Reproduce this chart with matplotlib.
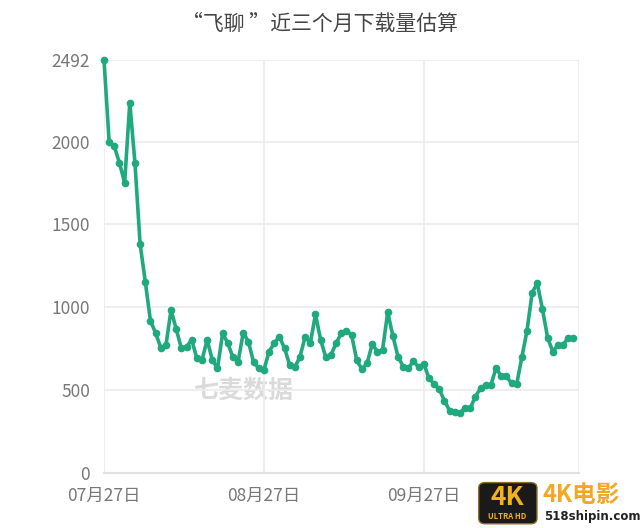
import matplotlib
matplotlib.use('Agg')
import matplotlib.pyplot as plt
import matplotlib.dates as mdates
import pandas as pd
from matplotlib.patches import FancyBboxPatch

plt.rcParams['font.family'] = ['Noto Sans CJK SC', 'DejaVu Sans']

# Daily download estimates, 07-27 .. 10-26
dates = pd.date_range('2019-07-27', periods=92)
downloads = [
    2492, 1996, 1970, 1871, 1750, 2235, 1871, 1382, 1155, 919,
    845, 757, 770, 984, 868, 752, 762, 803, 692, 682,
    803, 682, 632, 843, 783, 698, 672, 847, 792, 668,
    632, 622, 732, 783, 823, 752, 652, 638, 702, 823,
    783, 958, 803, 698, 712, 783, 843, 859, 833, 680,
    626, 662, 777, 732, 742, 970, 827, 702, 642, 632,
    675, 638, 660, 571, 537, 505, 436, 376, 370, 364,
    390, 390, 461, 511, 531, 531, 632, 585, 585, 541,
    535, 698, 857, 1088, 1145, 988, 817, 732, 772, 772,
    817, 813,
]
y_ticks = [0, 500, 1000, 1500, 2000, 2492]
x_ticks = ['2019-07-27', '2019-08-27', '2019-09-27']
title = '“飞聊 ”近三个月下载量估算'

green = '#1fa97d'
grid = '#ebebeb'

fig = plt.figure(figsize=(6.4, 5.28), dpi=100)
ax = fig.add_axes([0.1625, 0.1042, 0.7415, 0.7822])

ax.plot(dates, downloads, color=green, lw=2.6, marker='o', ms=4.5,
        clip_on=False, zorder=3)

ax.set_ylim(0, 2492)
ax.set_xlim(dates[0], dates[0] + pd.Timedelta(days=92))
ax.set_yticks(y_ticks)
ax.set_xticks(pd.to_datetime(x_ticks))
ax.xaxis.set_major_formatter(mdates.DateFormatter('%m月%d日'))

ax.grid(True, color=grid, lw=1.2, zorder=0)
for s in ['top', 'right', 'left']:
    ax.spines[s].set_visible(False)
ax.spines['bottom'].set_color('#e2e2e2')
ax.spines['bottom'].set_linewidth(1.5)
ax.axvline(ax.get_xlim()[1], color=grid, lw=1.2, zorder=0)
ax.tick_params(length=0, colors='#777777', labelsize=12.5)
ax.tick_params(axis='y', pad=10)
ax.tick_params(axis='x', pad=10)

fig.text(0.5, 0.955, title, ha='center', va='center', fontsize=15,
         color='#444444')

# watermark
ax.text(0.19, 0.2, '七麦数据', transform=ax.transAxes, fontsize=18,
        color='#dadada', ha='left', va='center', zorder=1, fontweight='bold')

# site logo bottom right
logo = FancyBboxPatch((0.752, 0.012), 0.083, 0.07, boxstyle='round,pad=0.004,rounding_size=0.01',
                      transform=fig.transFigure, facecolor='#1a1a1a', edgecolor='#8a6d1f', lw=1)
fig.patches.append(logo)
fig.text(0.793, 0.058, '4K', ha='center', va='center', fontsize=19, fontweight='bold',
         color='#f2b21c')
fig.text(0.793, 0.022, 'ULTRA HD', ha='center', va='center', fontsize=5.5, fontweight='bold',
         color='#f2b21c')
fig.text(0.847, 0.063, '4K电影', ha='left', va='center', fontsize=17, fontweight='bold',
         color='#f5a623')
fig.text(0.85, 0.022, '518shipin.com', ha='left', va='center', fontsize=8.5,
         fontweight='bold', color='#222222', family='DejaVu Sans')

fig.savefig('out.png', dpi=100)
